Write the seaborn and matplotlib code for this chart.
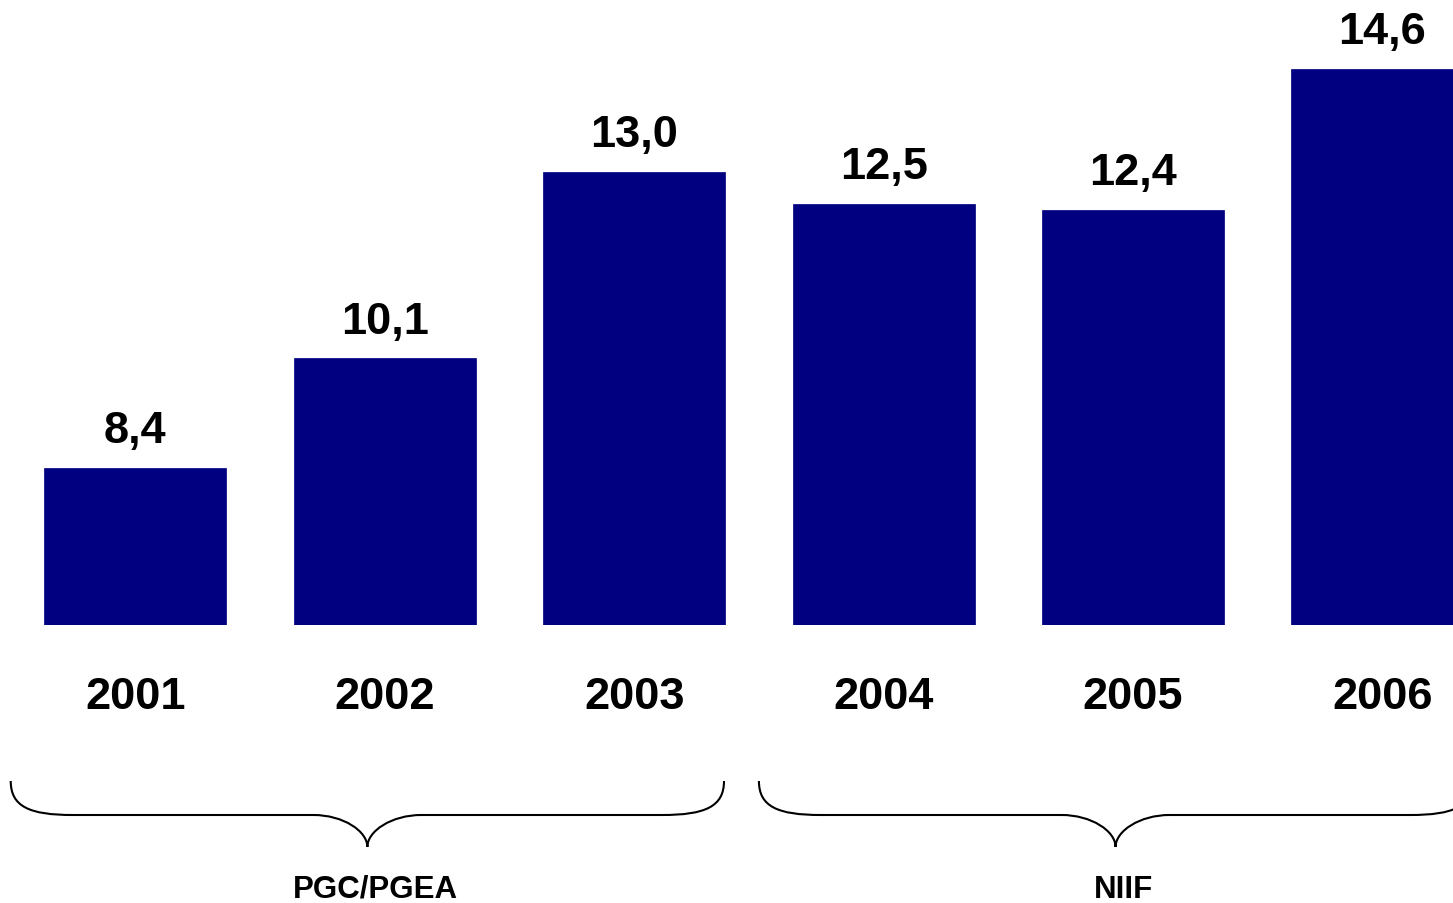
import matplotlib
matplotlib.use('Agg')
import matplotlib.pyplot as plt
from matplotlib.path import Path
from matplotlib.patches import PathPatch
from matplotlib.transforms import blended_transform_factory
import seaborn as sns

# ─── Data ─────────────────────────────────────────────────────────────────────
years  = ['2001', '2002', '2003', '2004', '2005', '2006']
values = [8.4, 10.1, 13.0, 12.5, 12.4, 14.6]
value_labels = ['8,4', '10,1', '13,0', '12,5', '12,4', '14,6']

group_labels = ['PGC/PGEA', 'NIIF']
group_first  = [0, 3]   # index of first year in group
group_last   = [2, 5]   # index of last year in group

# ─── Style ────────────────────────────────────────────────────────────────────
sns.set_style('white')
plt.rcParams['font.family'] = ['Liberation Sans', 'DejaVu Sans']
plt.rcParams['text.color'] = 'black'
plt.rcParams['xtick.color'] = 'black'
plt.rcParams['xtick.labelcolor'] = 'black'

W, H = 1453, 904
fig = plt.figure(figsize=(W / 100, H / 100), dpi=100)
ax = fig.add_axes([0, (H - 626) / H, 1, 626 / H])

sns.barplot(x=years, y=values, color='#000080', saturation=1,
            width=0.73, ax=ax, edgecolor='#000080', linewidth=0.5)

ax.set_xlim(-0.543, 5.283)
ax.set_ylim(5.955, 15.681)
ax.set_xlabel('')
ax.set_ylabel('')
ax.set_yticks([])
for s in ax.spines.values():
    s.set_visible(False)
ax.tick_params(axis='x', length=0, pad=37, labelsize=32.5, labelcolor='black')
for lbl in ax.get_xticklabels():
    lbl.set_fontweight('bold')

# value labels on top of bars
for i, (v, t) in enumerate(zip(values, value_labels)):
    ax.annotate(t, (i, v), xytext=(0, 18.5), textcoords='offset points',
                ha='center', va='baseline', fontsize=32.5, fontweight='bold',
                color='black', annotation_clip=False)

# ─── Group braces ─────────────────────────────────────────────────────────────
tr = blended_transform_factory(ax.transData, fig.transFigure)
unit = 249.4  # pixels per category
def fy(px):
    return (H - px) / H

y_top, y_mid, y_tip = fy(782), fy(816), fy(848)
end_w = 62 / unit
tip_w = 54 / unit

for lab, a, b in zip(group_labels, group_first, group_last):
    x0 = a - 0.5
    x1 = b + 0.36
    xm = (x0 + x1) / 2
    verts = [
        (x0, y_top),
        (x0, y_top - 0.75 * (y_top - y_mid)), (x0 + 0.3 * end_w, y_mid), (x0 + end_w, y_mid),
        (xm - tip_w, y_mid),
        (xm - 0.45 * tip_w, y_mid), (xm, y_mid - 0.5 * (y_mid - y_tip)), (xm, y_tip),
        (xm, y_mid - 0.5 * (y_mid - y_tip)), (xm + 0.45 * tip_w, y_mid), (xm + tip_w, y_mid),
        (x1 - end_w, y_mid),
        (x1 - 0.3 * end_w, y_mid), (x1, y_top - 0.75 * (y_top - y_mid)), (x1, y_top),
    ]
    codes = [Path.MOVETO,
             Path.CURVE4, Path.CURVE4, Path.CURVE4,
             Path.LINETO,
             Path.CURVE4, Path.CURVE4, Path.CURVE4,
             Path.CURVE4, Path.CURVE4, Path.CURVE4,
             Path.LINETO,
             Path.CURVE4, Path.CURVE4, Path.CURVE4]
    patch = PathPatch(Path(verts, codes), facecolor='none', edgecolor='black',
                      lw=1.5, transform=tr, clip_on=False)
    ax.add_patch(patch)
    ax.text(xm + 8 / unit, fy(898), lab, transform=tr, ha='center', va='baseline',
            fontsize=22.5, fontweight='bold', color='black')

plt.savefig('out.png', dpi=100)
plt.close()
